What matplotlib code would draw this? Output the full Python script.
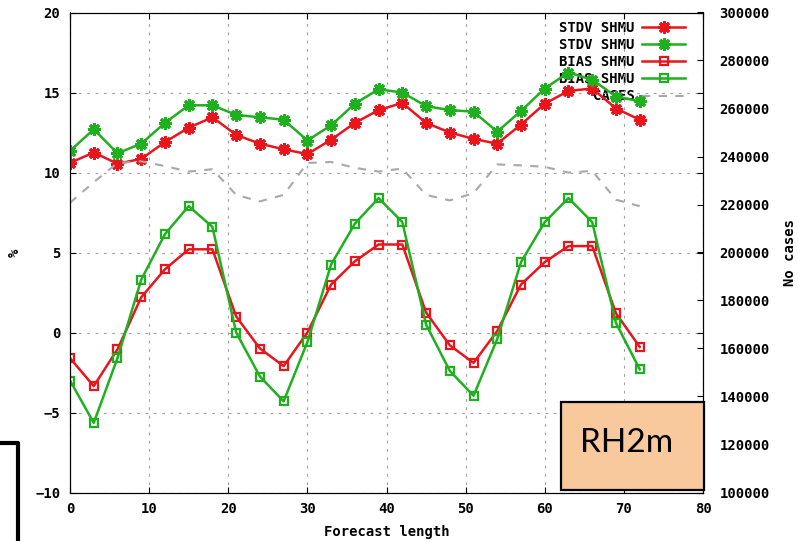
import matplotlib
matplotlib.use("Agg")
from matplotlib import pyplot as plt
from matplotlib.lines import Line2D
from matplotlib.patches import Rectangle

# forecast length (h)
lead = [0, 3, 6, 9, 12, 15, 18, 21, 24, 27, 30, 33, 36, 39, 42, 45, 48, 51, 54, 57, 60, 63, 66, 69, 72]

stdv_red = [10.6, 11.25, 10.55, 10.85, 11.9, 12.8, 13.45, 12.35, 11.8, 11.45, 11.15, 12.05, 13.1,
            13.9, 14.35, 13.1, 12.5, 12.1, 11.8, 13.0, 14.3, 15.1, 15.25, 14.0, 13.3]
stdv_green = [11.35, 12.7, 11.2, 11.8, 13.1, 14.2, 14.2, 13.6, 13.45, 13.3, 12.0, 12.95, 14.3,
              15.2, 15.0, 14.15, 13.9, 13.8, 12.55, 13.85, 15.25, 16.25, 15.8, 14.75, 14.45]
bias_red = [-1.6, -3.35, -1.05, 2.2, 3.95, 5.2, 5.2, 1.0, -1.0, -2.1, 0.0, 3.0, 4.45,
            5.5, 5.5, 1.25, -0.8, -1.9, 0.1, 3.0, 4.4, 5.4, 5.4, 1.2, -0.9]
bias_green = [-3.0, -5.65, -1.6, 3.3, 6.15, 7.9, 6.6, 0.0, -2.75, -4.3, -0.6, 4.25, 6.8,
              8.4, 6.9, 0.5, -2.4, -3.95, -0.4, 4.4, 6.9, 8.4, 6.9, 0.6, -2.3]
cases = [220700, 229300, 237300, 238000, 236000, 233700, 234700, 224000, 221300, 224000,
         237300, 237700, 235300, 233700, 235000, 224000, 221700, 224700, 236700, 236300,
         235700, 233300, 234000, 222000, 219300]

x_ticks = [0, 10, 20, 30, 40, 50, 60, 70, 80]
y_ticks = [-10, -5, 0, 5, 10, 15, 20]
y2_ticks = [100000, 120000, 140000, 160000, 180000, 200000, 220000, 240000, 260000, 280000, 300000]

RED = "#e8161c"
GREEN = "#1fb01f"
GREY = "#a8a8a8"
mono = {"family": "DejaVu Sans Mono", "weight": "bold", "size": 10}

W, H = 798, 541
fig = plt.figure(figsize=(W / 100, H / 100), dpi=100)
ax = fig.add_axes([70 / W, 1 - 492.5 / H, 633 / W, 480 / H])
ax2 = ax.twinx()

star = (8, 2, 0)
ax.plot(lead, stdv_red, color=RED, lw=1.8, marker=star, ms=9, mew=2.2, label="STDV SHMU")
ax.plot(lead, stdv_green, color=GREEN, lw=1.8, marker=star, ms=9, mew=2.2, label="STDV SHMU")
ax.plot(lead, bias_red, color=RED, lw=1.8, marker="s", ms=5.8, mew=1.6, mfc="none", label="BIAS SHMU")
ax.plot(lead, bias_green, color=GREEN, lw=1.8, marker="s", ms=5.8, mew=1.6, mfc="none", label="BIAS SHMU")
ax2.plot(lead, cases, color=GREY, lw=1.5, dashes=(4, 4), label="CASES")

ax.set_xlim(0, 80)
ax.set_ylim(-10, 20)
ax2.set_ylim(100000, 300000)
ax.set_xticks(x_ticks)
ax.set_yticks(y_ticks)
ax2.set_yticks(y2_ticks)

ax.grid(True, color="#a0a0a0", lw=0.8, linestyle=(0, (2.5, 5)))
ax.tick_params(axis="both", direction="in", length=4, width=0.8, top=True, right=True)
ax.tick_params(axis="y", pad=7)
ax.tick_params(axis="x", pad=7)
ax2.tick_params(axis="y", direction="in", length=4, width=0.8, pad=12)

for lab in ax.get_xticklabels() + ax.get_yticklabels() + ax2.get_yticklabels():
    lab.set_fontfamily("DejaVu Sans Mono")
    lab.set_fontweight("bold")
    lab.set_fontsize(10)

for a in (ax, ax2):
    for s in a.spines.values():
        s.set_linewidth(0.8)
        s.set_color("black")

ax.set_xlabel("Forecast length", fontdict=mono, va="center")
ax.xaxis.set_label_coords(0.5, -0.082)
ax.set_ylabel("%", fontdict=mono, va="center", rotation=90)
ax.yaxis.set_label_coords(-0.087, 0.5)
ax2.set_ylabel("No cases", fontdict=mono, va="center", rotation=90)
ax2.yaxis.set_label_coords(1.137, 0.5)

handles = ax.get_lines() + ax2.get_lines()
leg = ax.legend(handles=handles, labels=[h.get_label() for h in handles],
                loc="upper right", bbox_to_anchor=(0.972, 0.982), frameon=False,
                markerfirst=False, handlelength=3.1, handletextpad=0.55,
                labelspacing=0.22, borderpad=0, borderaxespad=0, prop=mono)
leg.set_zorder(1)

# label box in the lower right corner
fig.add_artist(Rectangle((561 / W, 1 - 490 / H), 143 / W, 88 / H, transform=fig.transFigure,
                         facecolor="#f8c99c", edgecolor="black", lw=1.6, zorder=10))
fig.text(627 / W, 1 - 443 / H, "RH2m", ha="center", va="center", family="Lato",
         fontsize=24, zorder=11)

# partial frame cut at the lower left
fig.add_artist(Line2D([0, 18 / W, 18 / W], [1 - 443 / H, 1 - 443 / H, 0],
                      transform=fig.transFigure, color="black", lw=3))

fig.savefig("out.png", dpi=100)
